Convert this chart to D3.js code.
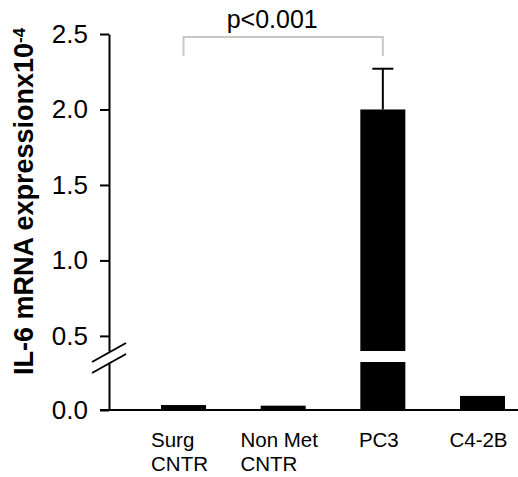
<!DOCTYPE html>
<html>
<head>
<meta charset="utf-8">
<script src="https://cdn.jsdelivr.net/npm/d3@7"></script>
<style>
  body { margin: 0; background: #fff; }
  text { font-family: "Liberation Sans", Arial, sans-serif; }
</style>
</head>
<body>
<div id="chart"></div>
<script>
// data
let categories = ["Surg CNTR", "Non Met CNTR", "PC3", "C4-2B"];
let labelLines = [["Surg", "CNTR"], ["Non Met", "CNTR"], ["PC3"], ["C4-2B"]];
let values = [0.031, 0.027, 2.0, 0.088];
let errors = [0, 0, 0.27, 0];
let upperTicks = [0.5, 1.0, 1.5, 2.0, 2.5];
let lowerTicks = [0.0];
let lowerMax = 0.3, upperMin = 0.4;

let width = 518, height = 477;

let svg = d3.select("#chart")
    .append("svg")
    .attr("width", width)
    .attr("height", height);

// broken y axis: two scales
let yUp = d3.scaleLinear().domain([upperMin, 2.5]).range([351, 34]);
let yLow = d3.scaleLinear().domain([0, lowerMax]).range([410, 362]);

let x = d3.scalePoint()
    .domain(categories)
    .range([183.5, 482.5]);
let barW = 45;

// upper axis segment
let axUp = svg.append("g")
    .attr("transform", "translate(109,0)")
    .call(d3.axisLeft(yUp).tickValues(upperTicks).tickFormat(d3.format(".1f"))
        .tickSize(9).tickSizeOuter(0).tickPadding(12));

// lower axis segment
let axLow = svg.append("g")
    .attr("transform", "translate(109,0)")
    .call(d3.axisLeft(yLow).tickValues(lowerTicks).tickFormat(d3.format(".1f"))
        .tickSize(9).tickSizeOuter(0).tickPadding(12));

[axUp, axLow].forEach(function(g) {
    g.selectAll("path, line").attr("stroke", "#000").attr("stroke-width", 2);
    g.selectAll("text").attr("font-size", 26).attr("fill", "#000")
        .style("font-family", "'Liberation Sans', Arial, sans-serif");
});

// break marks
[yUp(upperMin) + 1, yLow(lowerMax) + 1].forEach(function(yy) {
    svg.append("line")
        .attr("x1", 109 - 17).attr("y1", yy + 10)
        .attr("x2", 109 + 17).attr("y2", yy - 9)
        .attr("stroke", "#000").attr("stroke-width", 2);
});

// bars
categories.forEach(function(c, i) {
    let v = values[i];
    let x0 = x(c) - barW / 2;
    let lowTop = yLow(Math.min(v, lowerMax));
    svg.append("rect")
        .attr("x", x0).attr("width", barW)
        .attr("y", lowTop).attr("height", yLow(0) - lowTop)
        .attr("fill", "#000");
    if (v > lowerMax) {
        svg.append("rect")
            .attr("x", x0).attr("width", barW)
            .attr("y", yUp(v)).attr("height", yUp(upperMin) - yUp(v))
            .attr("fill", "#000");
    }
    if (errors[i] > 0) {
        let ye = yUp(v + errors[i]);
        svg.append("line")
            .attr("x1", x(c)).attr("x2", x(c))
            .attr("y1", yUp(v)).attr("y2", ye)
            .attr("stroke", "#000").attr("stroke-width", 2);
        svg.append("line")
            .attr("x1", x(c) - 10.5).attr("x2", x(c) + 10.5)
            .attr("y1", ye).attr("y2", ye)
            .attr("stroke", "#000").attr("stroke-width", 2);
    }
});

// baseline
svg.append("line")
    .attr("x1", 100).attr("x2", width)
    .attr("y1", yLow(0)).attr("y2", yLow(0))
    .attr("stroke", "#000").attr("stroke-width", 2);

// category labels
categories.forEach(function(c, i) {
    let t = svg.append("text")
        .attr("font-size", 20.5)
        .attr("fill", "#000");
    labelLines[i].forEach(function(s, j) {
        t.append("tspan").attr("y", 447 + j * 24).text(s);
    });
    let w = d3.max(t.selectAll("tspan").nodes(), function(n) { return n.getComputedTextLength(); });
    t.selectAll("tspan").attr("x", x(c) - 4 - w / 2);
});

// significance bracket
let bx1 = x("Surg CNTR"), bx2 = x("PC3");
svg.append("path")
    .attr("d", "M" + bx1 + "," + 56 + "V" + 37 + "H" + bx2 + "V" + 56)
    .attr("fill", "none")
    .attr("stroke", "#c8c8c8")
    .attr("stroke-width", 2);
svg.append("text")
    .attr("x", (bx1 + bx2) / 2 - 11)
    .attr("y", 28)
    .attr("text-anchor", "middle")
    .attr("font-size", 25)
    .text("p<0.001");

// y title
let title = svg.append("text")
    .attr("transform", "translate(33,375) rotate(-90)")
    .attr("font-size", 27)
    .attr("font-weight", "bold")
    .text("IL-6 mRNA expressionx10");
title.append("tspan")
    .attr("font-size", 17)
    .attr("dy", -8)
    .text("-4");
</script>
</body>
</html>
